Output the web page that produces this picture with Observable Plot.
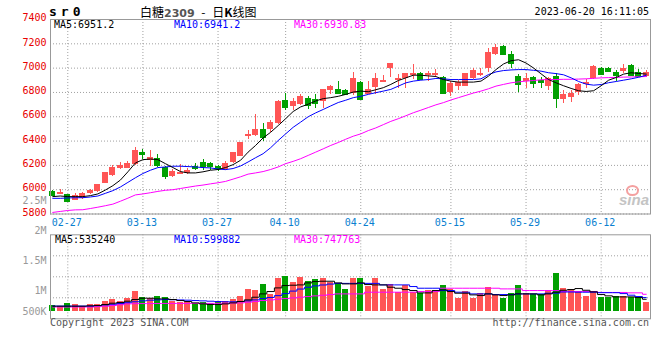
<!DOCTYPE html>
<html><head><meta charset="utf-8">
<script src="https://cdn.jsdelivr.net/npm/d3@7"></script>
<script src="https://cdn.jsdelivr.net/npm/@observablehq/plot@0.6"></script>
<style>
html,body{margin:0;padding:0;background:#fff;}
#wrap{position:relative;width:660px;height:360px;overflow:hidden;background:#fff;font-family:"DejaVu Sans Mono",monospace;font-size:10px;}
#wrap svg{position:absolute;left:0;top:0;}
.t{position:absolute;white-space:nowrap;line-height:10px;}
</style></head>
<body><div id="wrap"></div>
<script>
const dates = ["02-23","02-24","02-27","02-28","03-01","03-02","03-03","03-06","03-07","03-08","03-09","03-10","03-13","03-14","03-15","03-16","03-17","03-20","03-21","03-22","03-23","03-24","03-27","03-28","03-29","03-30","03-31","04-03","04-04","04-06","04-07","04-10","04-11","04-12","04-13","04-14","04-17","04-18","04-19","04-20","04-21","04-24","04-25","04-26","04-27","04-28","05-04","05-05","05-08","05-09","05-10","05-11","05-12","05-15","05-16","05-17","05-18","05-19","05-22","05-23","05-24","05-25","05-26","05-29","05-30","05-31","06-01","06-02","06-05","06-06","06-07","06-08","06-09","06-12","06-13","06-14","06-15","06-16","06-19","06-20"];
const tickDates = ["02-27","03-13","03-27","04-10","04-24","05-15","05-29","06-12"];
const priceTicks = [5800,6000,6200,6400,6600,6800,7000,7200,7400];
const volTickLabels = [500000,1000000,1500000,2000000,2500000];

const openP  = [5981,5960,5957,5913,5924,5965,5984,6052,6114,6171,6176,6204,6309,6242,6258,6179,6111,6127,6133,6193,6225,6212,6193,6166,6220,6277,6440,6445,6494,6494,6543,6730,6684,6698,6752,6738,6727,6820,6825,6817,6790,6885,6787,6839,6885,6999,6898,6915,6939,6953,6936,6942,6926,6803,6847,6852,6912,6936,6996,7110,7178,7110,6931,6893,6920,6901,6847,6934,6741,6757,6803,6866,6915,6993,6993,6961,6974,7020,6966,6928];
const highP  = [5992,6003,5960,5970,5976,6003,6046,6138,6198,6220,6233,6350,6334,6323,6290,6187,6166,6206,6174,6217,6250,6220,6200,6233,6309,6388,6486,6616,6548,6573,6736,6795,6747,6785,6766,6779,6825,6858,6887,6825,6961,6893,6893,6953,6942,7039,6947,6958,7028,6960,6975,6988,6930,6887,6898,6953,6996,6993,7164,7197,7183,7137,6947,6958,6934,6926,6920,6953,6812,6812,6874,6906,7018,7007,7005,6980,7028,7031,6985,6980];
const lowP   = [5946,5957,5894,5908,5920,5960,5980,6048,6110,6166,6172,6200,6247,6193,6179,6081,6100,6122,6125,6160,6160,6160,6147,6160,6215,6272,6413,6437,6396,6472,6535,6649,6649,6690,6657,6665,6665,6779,6790,6775,6772,6738,6779,6784,6880,6920,6831,6831,6904,6900,6888,6926,6785,6765,6812,6848,6908,6930,6961,7104,7104,7001,6798,6833,6833,6833,6812,6668,6711,6716,6771,6833,6905,6942,6960,6893,6955,6935,6925,6925];
const closeP = [5954,5976,5902,5951,5965,5997,6046,6138,6182,6198,6214,6323,6290,6261,6198,6111,6147,6138,6160,6174,6193,6187,6174,6212,6304,6388,6453,6494,6432,6551,6725,6673,6725,6766,6695,6708,6825,6847,6792,6782,6912,6738,6825,6912,6901,7039,6912,6958,6955,6906,6958,6958,6792,6874,6879,6953,6980,6953,7126,7170,7113,7042,6866,6912,6871,6879,6912,6749,6779,6790,6863,6879,7010,6947,6969,6942,6993,6939,6934,6966];

const ma5  = [5943,5948,5943,5943,5943,5951,5965,5997,6033,6079,6147,6220,6247,6252,6247,6214,6182,6149,6138,6138,6147,6160,6166,6182,6206,6242,6309,6364,6426,6472,6527,6584,6643,6681,6703,6730,6749,6757,6768,6784,6803,6811,6806,6822,6839,6866,6898,6920,6942,6942,6936,6931,6906,6893,6885,6885,6885,6893,6934,6988,7034,7061,7069,7042,7001,6953,6906,6879,6855,6833,6814,6808,6814,6855,6901,6923,6951,6962,6956,6951];
const ma10 = [5929,5929,5932,5934,5934,5940,5948,5970,5992,6022,6060,6098,6133,6160,6182,6187,6193,6193,6190,6187,6182,6179,6170,6165,6174,6195,6228,6263,6296,6345,6404,6459,6513,6556,6600,6632,6660,6689,6717,6736,6757,6768,6784,6798,6811,6825,6852,6879,6893,6901,6906,6915,6912,6906,6906,6906,6906,6912,6947,6969,6980,6985,6988,6988,6982,6975,6962,6955,6945,6920,6890,6868,6860,6865,6880,6890,6901,6912,6925,6941];
const ma30 = [5813,5821,5829,5834,5835,5845,5856,5868,5881,5905,5930,5957,5965,5975,5986,5995,6000,6010,6020,6030,6038,6048,6057,6068,6087,6106,6128,6138,6149,6166,6187,6214,6233,6255,6282,6309,6336,6364,6388,6415,6440,6459,6486,6508,6535,6562,6584,6608,6633,6654,6676,6698,6716,6738,6757,6776,6795,6811,6830,6852,6866,6879,6887,6893,6898,6904,6906,6906,6908,6908,6910,6912,6916,6920,6922,6924,6926,6927,6929,6931];

const volume = [250000,220000,367000,308000,220000,308000,308000,440000,528000,440000,557000,880000,630000,557000,675000,601000,440000,381000,381000,337000,381000,337000,440000,440000,528000,675000,968000,924000,1188000,748000,1437000,1555000,1261000,1511000,1335000,1408000,1452000,1300000,1217000,968000,1452000,1452000,1100000,1452000,968000,1173000,850000,1129000,850000,807000,924000,924000,1144000,968000,587000,880000,587000,807000,1041000,733000,587000,777000,1144000,807000,733000,733000,924000,1672000,1027000,953000,880000,675000,880000,630000,630000,675000,675000,630000,630000,411000];
const volMa5  = [235000,235000,235000,235000,235000,250000,264000,308000,367000,396000,455000,528000,587000,587000,557000,557000,528000,484000,440000,381000,337000,308000,308000,337000,381000,440000,513000,630000,777000,880000,1041000,1144000,1159000,1173000,1261000,1320000,1335000,1335000,1261000,1217000,1217000,1261000,1188000,1173000,1173000,1071000,1027000,968000,924000,821000,821000,924000,953000,880000,807000,807000,733000,704000,777000,733000,704000,733000,777000,777000,777000,733000,777000,851000,937000,968000,1012000,937000,867000,748000,690000,645000,645000,645000,616000,541000];
const volMa10 = [240000,240000,240000,240000,240000,240000,260000,290000,320000,350000,390000,430000,470000,500000,515000,528000,520000,510000,500000,484000,470000,455000,440000,430000,430000,440000,470000,513000,570000,620000,700000,790000,900000,990000,1071000,1130000,1170000,1210000,1240000,1240000,1240000,1240000,1240000,1240000,1173000,1173000,1173000,1173000,1100000,1027000,1027000,1027000,924000,924000,851000,851000,777000,777000,777000,748000,748000,748000,777000,777000,777000,777000,807000,807000,860000,860000,851000,851000,851000,830000,830000,830000,790000,720000,660000,616000];
const volMa30 = [200000,200000,200000,200000,200000,200000,215000,235000,265000,300000,337000,345000,350000,352000,355000,357000,358000,358000,358000,358000,360000,360000,362000,365000,372000,381000,410000,440000,484000,513000,543000,572000,600000,630000,660000,690000,718000,748000,777000,777000,777000,777000,851000,851000,851000,851000,851000,851000,851000,880000,880000,880000,1027000,1027000,1027000,1027000,1027000,1027000,1027000,1027000,997000,997000,997000,924000,924000,924000,924000,924000,880000,880000,880000,880000,880000,840000,840000,840000,840000,823000,823000,760000];

const RED = "#ff5555", GREEN = "#00a000", GRID = "#a0a0a0", BORDER = "#999999";
const W = 660, H = 360;

const rows = dates.map((d, i) => ({
  date: d, open: openP[i], high: highP[i], low: lowP[i], close: closeP[i],
  ma5: ma5[i], ma10: ma10[i], ma30: ma30[i],
  vol: volume[i], vma5: volMa5[i], vma10: volMa10[i], vma30: volMa30[i],
  col: closeP[i] >= openP[i] ? RED : GREEN
}));

const xOpt = {type: "band", domain: dates, range: [48.5, 649.5], paddingInner: 0.2, paddingOuter: 0.1, align: 0.5, axis: null, label: null};
const baseStyle = {background: "transparent", overflow: "visible", fontFamily: "DejaVu Sans Mono, monospace", fontSize: "10px"};
const dotted = {stroke: GRID, strokeOpacity: 1, strokeDasharray: "1,2", strokeWidth: 1};

const pricePlot = Plot.plot({
  width: W, height: H, marginLeft: 50, marginRight: 10, marginTop: 19, marginBottom: H - 213.5,
  x: xOpt,
  y: {domain: [5800, 7400], axis: null, label: null},
  color: {type: "identity"},
  style: baseStyle,
  marks: [
    Plot.gridY(priceTicks, dotted),
    Plot.gridX(tickDates, dotted),
    Plot.ruleX(rows, {x: "date", y1: "low", y2: "high", stroke: "col", strokeWidth: 1, shapeRendering: "crispEdges"}),
    Plot.barY(rows, {x: "date", y1: "open", y2: "close", fill: "col", shapeRendering: "crispEdges"}),
    Plot.tickY(rows, {x: "date", y: "close", stroke: "col", strokeWidth: 1, shapeRendering: "crispEdges"}),
    Plot.line(rows, {x: "date", y: "ma30", stroke: "#ff00ff", strokeWidth: 1}),
    Plot.line(rows, {x: "date", y: "ma10", stroke: "#0000ff", strokeWidth: 1}),
    Plot.line(rows, {x: "date", y: "ma5", stroke: "#000000", strokeWidth: 1}),
    Plot.frame({stroke: BORDER, strokeWidth: 1}),
    Plot.axisY(priceTicks, {anchor: "left", label: null, tickSize: 0, tickPadding: 4, fill: "#e80000", dy: -1.5, tickFormat: d => String(d)}),
    Plot.axisX(tickDates, {anchor: "bottom", label: null, tickSize: 0, tickPadding: 5, fill: "#0a7fd0", dx: -1})
  ]
});

const volPlot = Plot.plot({
  width: W, height: H, marginLeft: 50, marginRight: 10, marginTop: 234.3, marginBottom: H - 318.3,
  x: xOpt,
  y: {domain: [-320000, 3380000], axis: null, label: null},
  color: {type: "identity"},
  style: baseStyle,
  marks: [
    Plot.gridY([605000, 1530000, 2455000], dotted),
    Plot.gridX(tickDates, dotted),
    Plot.barY(rows, {x: "date", y1: 0, y2: "vol", fill: "col", shapeRendering: "crispEdges"}),
    Plot.line(rows, {x: "date", y: "vma30", stroke: "#ff00ff", strokeWidth: 1, curve: "step"}),
    Plot.line(rows, {x: "date", y: "vma10", stroke: "#0000ff", strokeWidth: 1, curve: "step"}),
    Plot.line(rows, {x: "date", y: "vma5", stroke: "#000000", strokeWidth: 1, curve: "step"}),
    Plot.frame({stroke: BORDER, strokeWidth: 1})
  ]
});

const volLabelPlot = Plot.plot({
  width: W, height: H, marginLeft: 50, marginRight: 10, marginTop: 0, marginBottom: 0,
  y: {domain: [662000, 2500000], range: [311, 200.7], clamp: true, axis: null, label: null},
  style: baseStyle,
  marks: [
    Plot.axisY(volTickLabels, {anchor: "left", label: null, tickSize: 0, tickPadding: 4, fill: "#999999",
      tickFormat: d => d >= 1e6 ? (d / 1e6) + "M" : (d / 1e3) + "K"})
  ]
});

const wrap = document.getElementById("wrap");
wrap.appendChild(pricePlot);
wrap.appendChild(volPlot);
wrap.appendChild(volLabelPlot);

function label(html, opts) {
  const el = document.createElement("div");
  el.className = "t";
  el.innerHTML = html;
  Object.assign(el.style, opts);
  wrap.appendChild(el);
  return el;
}
// header
label("sr0", {left: "49px", top: "5px", fontWeight: "bold", fontSize: "13px", letterSpacing: "4px", lineHeight: "13px", color: "#000"});
label('白糖<span style="color:#555;font-family:\'DejaVu Sans\',sans-serif;font-weight:bold;font-size:11px">2309</span> - 日<b>K</b>线图',
  {left: "140px", top: "5px", fontFamily: "'Noto Sans CJK SC', sans-serif", fontSize: "12px", lineHeight: "13px", color: "#000", wordSpacing: "4px"});
label("2023-06-20 16:11:05", {right: "11px", top: "7px", color: "#000"});
label("MA5:6951.2", {left: "54px", top: "20px", color: "#000"});
label("MA10:6941.2", {left: "174px", top: "20px", color: "#0000ff"});
label("MA30:6930.83", {left: "294px", top: "20px", color: "#ff00ff"});
label("MA5:535240", {left: "55px", top: "235px", color: "#000"});
label("MA10:599882", {left: "174px", top: "235px", color: "#0000ff"});
label("MA30:747763", {left: "294px", top: "235px", color: "#ff00ff"});
// footer
label("Copyright 2023 SINA.COM", {left: "50px", top: "318px", color: "#555"});
label("http://finance.sina.com.cn", {right: "11px", top: "318px", color: "#555"});
// watermark
label("sina", {left: "619px", top: "192px", fontFamily: "'Liberation Sans', sans-serif", fontStyle: "italic", fontWeight: "bold", fontSize: "15px", lineHeight: "15px", color: "#c4c4c4"});
const eye = document.createElement("div");
Object.assign(eye.style, {position: "absolute", left: "626px", top: "185px", width: "9px", height: "7px", border: "2px solid #f4a0a0", borderRadius: "50%"});
wrap.appendChild(eye);
</script></body></html>
